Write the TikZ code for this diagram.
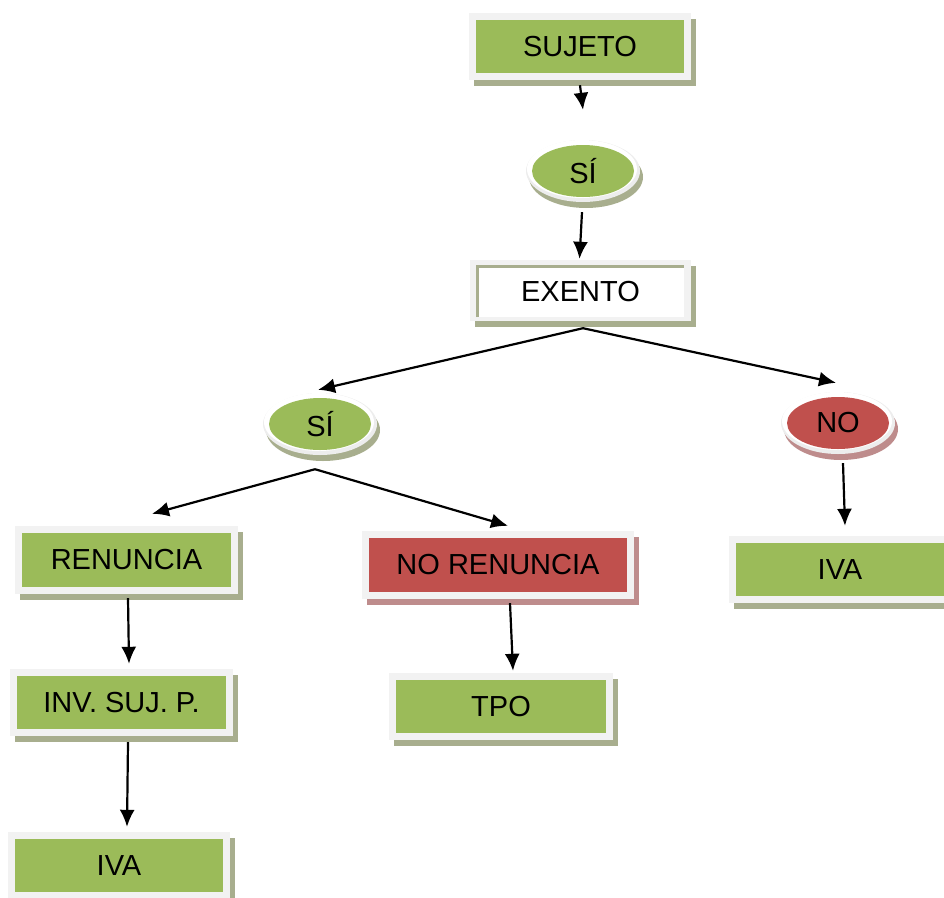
\documentclass[tikz,border=0pt]{standalone}
\usepackage{fontspec}
\setmainfont{Liberation Sans}
\usetikzlibrary{arrows.meta,shapes.geometric}

\definecolor{leaf}{HTML}{9BBB59}
\definecolor{brick}{HTML}{C0504D}
\definecolor{framecol}{HTML}{F2F2F2}
\definecolor{greenshade}{HTML}{A8AE8E}
\definecolor{redshade}{HTML}{BE8C8C}
\definecolor{ringcol}{HTML}{EDEDED}

\tikzset{
  lbl/.style={font=\fontsize{29}{34}\selectfont, text=black},
  arr/.style={line width=2.2pt, -{Latex[length=17pt,width=15pt]}},
  inner box/.style={rectangle, inner sep=0pt, draw=none},
  inner oval/.style={ellipse, inner sep=0pt, draw=none,
    minimum width=102pt, minimum height=52pt},
}

% framed box: name, x1, y1, x2, y2 (inner rectangle), fill, shadow, text
\newcommand\flowbox[8]{%
  \fill[#7] (#2-7+5,#3-7+6) rectangle (#4+7+5,#5+7+6);
  \fill[framecol] (#2-7,#3-7) rectangle (#4+7,#5+7);
  \fill[#6] (#2,#3) rectangle (#4,#5);
  \node[inner box, minimum width={#4-#2}, minimum height={#5-#3}, lbl]
    (#1) at ({(#2+#4)/2},{(#3+#5)/2}) {#8};
}
% framed oval: name, cx, cy, fill, shadow, text
\newcommand\flowoval[6]{%
  \fill[#5] (#2+3,#3+6) ellipse [x radius=57pt, y radius=31pt];
  \fill[ringcol] (#2,#3) ellipse [x radius=57pt, y radius=31pt];
  \fill[white] (#2-1,#3-2) ellipse [x radius=55pt, y radius=29pt];
  \node[inner oval, fill=#4, lbl] (#1) at (#2,#3) {#6};
}

\begin{document}
\begin{tikzpicture}[x=1pt,y=-1pt]
  \useasboundingbox (0,0) rectangle (944,897);

  \flowbox{sujeto}{476}{20}{684}{73}{leaf}{greenshade}{SUJETO}
  \flowoval{si1}{583}{171}{leaf}{greenshade}{SÍ}

  % exempt box: white with a grey-green rule on top and left
  \fill[greenshade] (470+5,260+6) rectangle (691+5,321+6);
  \fill[framecol] (470,260) rectangle (691,321);
  \fill[white] (477,266) rectangle (684,317);
  \draw[greenshade, line width=3pt] (477,317) -- (477,266) -- (684,266);
  \node[inner box, minimum width=207pt, minimum height=51pt, lbl]
    (exento) at (580.5,291.5) {EXENTO};

  \flowoval{si2}{320}{424}{leaf}{greenshade}{SÍ}
  \flowoval{no}{838}{423}{brick}{redshade}{NO}

  \flowbox{renuncia}{22}{533}{231}{587}{leaf}{greenshade}{RENUNCIA}
  \flowbox{norenuncia}{369}{538}{627}{592}{brick}{redshade}{NO RENUNCIA}
  \flowbox{ivaright}{736}{543}{944}{596}{leaf}{greenshade}{IVA}
  \flowbox{inv}{17}{676}{226}{729}{leaf}{greenshade}{INV. SUJ. P.}
  \flowbox{tpo}{396}{680}{606}{733}{leaf}{greenshade}{TPO}
  \flowbox{ivaleft}{15}{839}{223}{892}{leaf}{greenshade}{IVA}

  % connectors
  \draw[arr] ([yshift=-12pt]sujeto.south) -- ([xshift=0pt,yshift=35pt]si1.north);
  \draw[arr] ([xshift=-1pt,yshift=-15pt]si1.south) -- ([xshift=-1pt,yshift=7pt]exento.north);
  \draw[arr] ([xshift=2.5pt,yshift=-11pt]exento.south) -- ([xshift=-2pt,yshift=8pt]si2.north);
  \draw[arr] ([xshift=2.5pt,yshift=-11pt]exento.south) -- ([xshift=-2pt,yshift=14pt]no.north);
  \draw[arr] ([xshift=-5pt,yshift=-19pt]si2.south) -- ([xshift=25.5pt,yshift=19pt]renuncia.north);
  \draw[arr] ([xshift=-5pt,yshift=-19pt]si2.south) -- ([xshift=10pt,yshift=12pt]norenuncia.north);
  \draw[arr] ([xshift=5pt,yshift=-14pt]no.south) -- ([xshift=5pt,yshift=17pt]ivaright.north);
  \draw[arr] ([xshift=1.5pt,yshift=-11pt]renuncia.south) -- ([xshift=7.5pt,yshift=12pt]inv.north);
  \draw[arr] ([xshift=12pt,yshift=-11pt]norenuncia.south) -- ([xshift=12pt,yshift=9pt]tpo.north);
  \draw[arr] ([xshift=6.5pt,yshift=-13pt]inv.south) -- ([xshift=8pt,yshift=12pt]ivaleft.north);
\end{tikzpicture}
\end{document}
